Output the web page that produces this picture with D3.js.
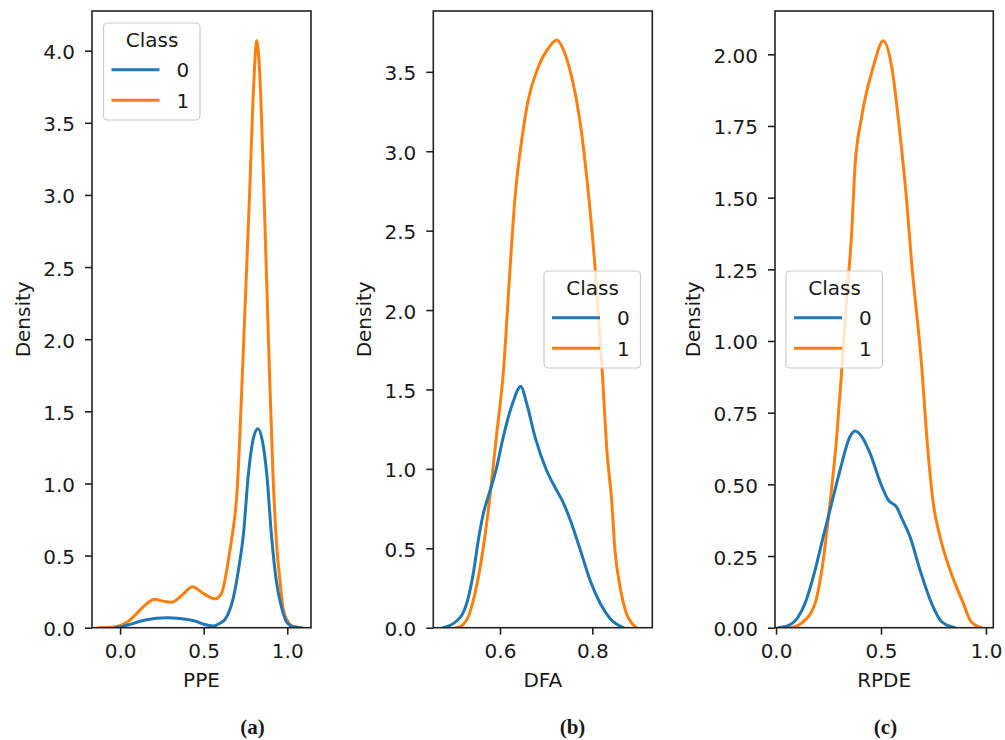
<!DOCTYPE html>
<html><head><meta charset="utf-8">
<script src="https://cdn.jsdelivr.net/npm/d3@7"></script>
<style>
body{margin:0;background:#fff}
text{font-family:"DejaVu Sans",sans-serif;fill:#1a1a1a}
</style>
</head><body>
<svg id="chart" width="1005" height="740"></svg>
<script>
// ---------- data ----------
const classes = ["0", "1"];
const classColors = ["#1f77b4", "#ff7f0e"];

// PPE density, class 0 / class 1  [value, density]
const ppeClass0 = [[-0.03,0],[0.0,0.005],[0.05,0.02],[0.15,0.053],[0.279,0.069],[0.36,0.063],[0.448,0.046],[0.50,0.024],[0.558,0.012],[0.596,0.03],[0.628,0.058],[0.655,0.12],[0.678,0.21],[0.708,0.40],[0.738,0.65],[0.767,1.06],[0.795,1.30],[0.825,1.38],[0.852,1.29],[0.877,1.07],[0.907,0.62],[0.935,0.32],[0.966,0.14],[1.006,0.025],[1.05,0.003],[1.086,0]];
const ppeClass1 = [[-0.13,0],[-0.05,0.003],[0.0,0.014],[0.05,0.045],[0.09,0.087],[0.15,0.157],[0.205,0.197],[0.25,0.186],[0.309,0.176],[0.37,0.225],[0.434,0.284],[0.50,0.236],[0.568,0.20],[0.60,0.225],[0.618,0.28],[0.648,0.47],[0.668,0.62],[0.70,0.95],[0.733,1.80],[0.773,2.96],[0.80,3.78],[0.817,4.07],[0.835,3.85],[0.862,2.96],[0.892,1.83],[0.915,1.05],[0.935,0.60],[0.955,0.34],[0.976,0.13],[1.0,0.05],[1.03,0.01],[1.086,0]];

// DFA density
const dfaClass0 = [[0.477,0],[0.506,0.042],[0.528,0.154],[0.542,0.34],[0.553,0.55],[0.564,0.72],[0.575,0.83],[0.592,1.0],[0.607,1.20],[0.627,1.41],[0.645,1.518],[0.658,1.41],[0.676,1.20],[0.701,0.99],[0.72,0.88],[0.735,0.80],[0.752,0.68],[0.774,0.49],[0.795,0.30],[0.817,0.154],[0.838,0.06],[0.867,0]];
const dfaClass1 = [[0.505,0],[0.52,0.02],[0.53,0.06],[0.542,0.17],[0.557,0.38],[0.568,0.59],[0.578,0.82],[0.592,1.2],[0.607,1.60],[0.622,2.27],[0.632,2.69],[0.649,3.11],[0.661,3.32],[0.683,3.53],[0.705,3.65],[0.723,3.70],[0.740,3.62],[0.750,3.53],[0.777,3.11],[0.793,2.69],[0.806,2.27],[0.821,1.64],[0.832,1.10],[0.842,0.80],[0.849,0.49],[0.86,0.26],[0.874,0.09],[0.885,0.03],[0.896,0]];

// RPDE density
const rpdeClass0 = [[0.01,0],[0.06,0.008],[0.106,0.038],[0.138,0.085],[0.186,0.201],[0.225,0.318],[0.265,0.434],[0.305,0.55],[0.352,0.666],[0.376,0.686],[0.41,0.665],[0.448,0.608],[0.50,0.50],[0.535,0.445],[0.575,0.42],[0.60,0.38],[0.638,0.318],[0.686,0.201],[0.741,0.085],[0.79,0.02],[0.852,0]];
const rpdeClass1 = [[0.07,0],[0.12,0.015],[0.186,0.085],[0.218,0.201],[0.257,0.434],[0.289,0.666],[0.313,0.899],[0.336,1.143],[0.360,1.375],[0.376,1.607],[0.408,1.782],[0.463,1.956],[0.511,2.047],[0.551,1.956],[0.590,1.724],[0.622,1.491],[0.645,1.28],[0.694,0.91],[0.718,0.666],[0.749,0.434],[0.781,0.318],[0.829,0.201],[0.892,0.085],[0.93,0.02],[0.98,0]];

// tick labels
const ppeXTicks = [0.0, 0.5, 1.0];
const ppeYTicks = [0, 0.5, 1.0, 1.5, 2.0, 2.5, 3.0, 3.5, 4.0];
const dfaXTicks = [0.6, 0.8];
const dfaYTicks = [0, 0.5, 1.0, 1.5, 2.0, 2.5, 3.0, 3.5];
const rpdeXTicks = [0.0, 0.5, 1.0];
const rpdeYTicks = [0, 0.25, 0.5, 0.75, 1.0, 1.25, 1.5, 1.75, 2.0];

const xLabels = ["PPE", "DFA", "RPDE"];
const captions = ["(a)", "(b)", "(c)"];

// ---------- layout ----------
const plotTop = 11, plotBottom = 627.7;
const panels = [
  {series:[ppeClass0, ppeClass1], xDomain:[-0.168,1.142], yDomain:[0,4.275], xTicks:ppeXTicks, yTicks:ppeYTicks, xFmt:".1f", yFmt:".1f", left:92, right:311, legend:[103.5,23], capX:252.5},
  {series:[dfaClass0, dfaClass1], xDomain:[0.4555,0.930], yDomain:[0,3.883], xTicks:dfaXTicks, yTicks:dfaYTicks, xFmt:".1f", yFmt:".1f", left:433.3, right:652.3, legend:[544,271], capX:572.5},
  {series:[rpdeClass0, rpdeClass1], xDomain:[-0.005,1.035], yDomain:[0,2.151], xTicks:rpdeXTicks, yTicks:rpdeYTicks, xFmt:".1f", yFmt:".2f", left:775, right:993.3, legend:[786,271], capX:885.5}
];

const svg = d3.select("#chart");
svg.append("rect").attr("width",1005).attr("height",740).attr("fill","#fff");

panels.forEach((p, i) => {
  const x = d3.scaleLinear().domain(p.xDomain).range([p.left, p.right]);
  const y = d3.scaleLinear().domain(p.yDomain).range([plotBottom, plotTop]);
  const g = svg.append("g");

  const clipId = "clip" + i;
  g.append("clipPath").attr("id", clipId).append("rect")
    .attr("x", p.left).attr("y", plotTop).attr("width", p.right - p.left).attr("height", plotBottom - plotTop);

  const line = d3.line().x(d => x(d[0])).y(d => y(d[1])).curve(d3.curveMonotoneX);
  // orange first, blue on top
  [1, 0].forEach(k => {
    g.append("path").datum(p.series[k])
      .attr("d", line).attr("fill", "none")
      .attr("stroke", classColors[k]).attr("stroke-width", 3)
      .attr("stroke-linejoin", "round").attr("stroke-linecap", "round")
      .attr("clip-path", `url(#${clipId})`);
  });

  // spines
  g.append("rect").attr("x", p.left).attr("y", plotTop)
    .attr("width", p.right - p.left).attr("height", plotBottom - plotTop)
    .attr("fill", "none").attr("stroke", "#222").attr("stroke-width", 1.6);

  // axes
  const xa = g.append("g").attr("transform", `translate(0,${plotBottom})`)
    .call(d3.axisBottom(x).tickValues(p.xTicks).tickFormat(d3.format(p.xFmt)).tickSize(7).tickPadding(9));
  const ya = g.append("g").attr("transform", `translate(${p.left},0)`)
    .call(d3.axisLeft(y).tickValues(p.yTicks).tickFormat(d3.format(p.yFmt)).tickSize(7).tickPadding(10));
  [xa, ya].forEach(a => {
    a.select(".domain").remove();
    a.selectAll(".tick line").attr("stroke", "#222").attr("stroke-width", 1.6);
    a.selectAll(".tick text").attr("font-size", 20).attr("font-family", '"DejaVu Sans", sans-serif').attr("fill", "#1a1a1a");
  });
  ya.selectAll(".tick text").attr("dy", "0.4em");

  // axis labels
  g.append("text").attr("x", (p.left + p.right) / 2).attr("y", 686.5)
    .attr("text-anchor", "middle").attr("font-size", 20).text(xLabels[i]);
  const yb = ya.node().getBBox();
  g.append("text")
    .attr("transform", `translate(${p.left + yb.x - 13.5},${(plotTop + plotBottom) / 2}) rotate(-90)`)
    .attr("text-anchor", "middle").attr("font-size", 20).text("Density");

  // legend
  const [lx, ly] = p.legend;
  const lg = g.append("g");
  lg.append("rect").attr("x", lx).attr("y", ly).attr("width", 96.5).attr("height", 97)
    .attr("rx", 4).attr("fill", "#fff").attr("fill-opacity", 0.8)
    .attr("stroke", "#cccccc").attr("stroke-width", 1.2);
  lg.append("text").attr("x", lx + 48.5).attr("y", ly + 24).attr("text-anchor", "middle")
    .attr("font-size", 20).text("Class");
  classes.forEach((c, k) => {
    const yy = ly + 46.7 + k * 30.6;
    lg.append("line").attr("x1", lx + 8).attr("x2", lx + 56).attr("y1", yy).attr("y2", yy)
      .attr("stroke", classColors[k]).attr("stroke-width", 3);
    lg.append("text").attr("x", lx + 73).attr("y", yy + 7.3).attr("font-size", 20).text(c);
  });

  // caption
  g.append("text").attr("x", p.capX).attr("y", 734).attr("text-anchor", "middle")
    .attr("font-size", 21).attr("font-weight", "bold")
    .style("font-family", '"Liberation Serif", "Times New Roman", serif')
    .text(captions[i]);
});
</script>
</body></html>
